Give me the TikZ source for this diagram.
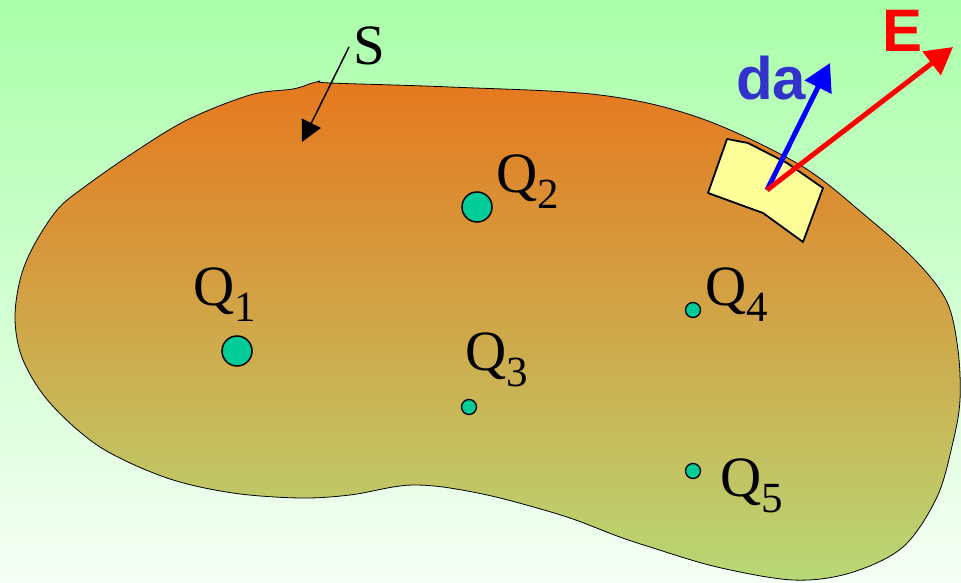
\documentclass[tikz,border=0pt]{standalone}
\usepackage{fontspec}
\setmainfont{Liberation Serif}
\newfontfamily\labsans{Liberation Sans}
\usetikzlibrary{arrows.meta}
\definecolor{bgtop}{RGB}{170,255,170}
\definecolor{bgbot}{RGB}{246,255,246}
\definecolor{blobtop}{RGB}{230,120,30}
\definecolor{blobmid}{RGB}{214,166,82}
\definecolor{blobbot}{RGB}{184,216,118}
\definecolor{charge}{RGB}{0,204,153}
\definecolor{patch}{RGB}{255,255,153}
\definecolor{dablue}{RGB}{51,51,204}
\newcommand{\qlab}[1]{{\fontsize{57}{60}\selectfont Q}\raisebox{-16pt}{\fontsize{43}{45}\selectfont #1}}
\begin{document}
\begin{tikzpicture}[x=1pt,y=-1pt,
  chargebig/.style={circle,draw=black,line width=1.5pt,fill=charge,minimum size=30pt,inner sep=0pt},
  chargesmall/.style={circle,draw=black,line width=1.3pt,fill=charge,minimum size=15pt,inner sep=0pt},
  qlabel/.style={anchor=base west,inner sep=0pt},
  vecfont/.style={font=\fontsize{60}{60}\selectfont\labsans\bfseries},
  vec/.style={line width=5pt,-{Triangle[length=27pt,width=29pt]}}]
\useasboundingbox (0,0) rectangle (961,583);
\shade[top color=bgtop,bottom color=bgbot] (0,0) rectangle (961,583);
% surface S
\shadedraw[draw=black,line width=0.8pt,line join=miter,top color=blobtop,middle color=blobmid,bottom color=blobbot]
  plot[smooth,tension=0.55] coordinates {
  (320,81) (330,83) (450,87) (600,95) (700,118) (800,165) (867,217) (917,262) (947,302)
  (958,350) (960,400) (953,442) (937,497) (903,547) (850,573) (793,580) (717,567)
  (650,547) (617,536) (567,517) (500,498) (450,488) (417,485) (393,487) (350,495)
  (300,498) (233,493) (167,478) (100,447) (50,403) (23,360) (15,320) (20,280)
  (33,247) (57,210) (83,188) (133,153) (187,120) (250,95) (293,89) (309,84)} -- cycle;
% surface element
\draw[fill=patch,line width=1.8pt,line join=round]
  (727,139) -- (748,143) -- (787,163) -- (823,188) -- (803,242) -- (763,213) -- (708,193) -- cycle;
% vectors
\coordinate (o) at (767,190);
\coordinate (datip) at (830,63);
\coordinate (etip) at (953,47);
\draw[vec,blue] (o) -- (datip);
\draw[vec,red] (o) -- (etip);
\node[qlabel,vecfont,text=dablue] (da) at (736,100) {da};
\node[qlabel,vecfont,text=red] (E) at (882,52) {E};
% S label and pointer
\node[qlabel] (S) at (353,65) {\fontsize{57}{60}\selectfont S};
\coordinate (sfrom) at (349,47);
\coordinate (stip) at (302,142);
\draw[line width=1.5pt,-{Triangle[length=21pt,width=21pt]}] (sfrom) -- (stip);
% charges
\node[chargebig] (q1) at (237,351) {};
\node[chargebig] (q2) at (477,207) {};
\node[chargesmall] (q3) at (469,407) {};
\node[chargesmall] (q4) at (693,310) {};
\node[chargesmall] (q5) at (693,471) {};
\node[qlabel] (q1l) at (193,305) {\qlab{1}};
\node[qlabel] (q2l) at (496,193) {\qlab{2}};
\node[qlabel] (q3l) at (465,370) {\qlab{3}};
\node[qlabel] (q4l) at (705,305) {\qlab{4}};
\node[qlabel] (q5l) at (720,496) {\qlab{5}};
\end{tikzpicture}
\end{document}
